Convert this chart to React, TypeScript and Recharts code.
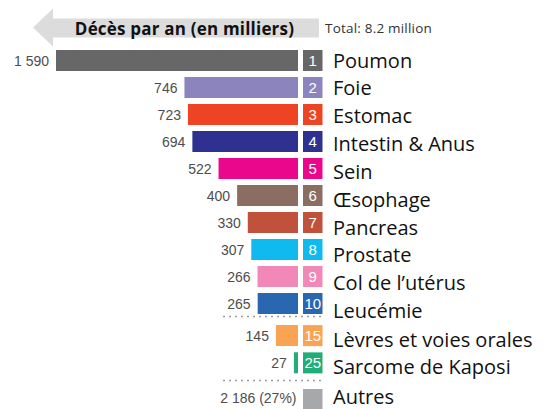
import { Bar, BarChart, Cell, LabelList, XAxis, YAxis } from "recharts";

// top ten causes
const causes = [
	"Poumon",
	"Foie",
	"Estomac",
	"Intestin & Anus",
	"Sein",
	"Œsophage",
	"Pancreas",
	"Prostate",
	"Col de l’utérus",
	"Leucémie",
];
const ranks = [1, 2, 3, 4, 5, 6, 7, 8, 9, 10];
const deaths = [1590, 746, 723, 694, 522, 400, 330, 307, 266, 265];
const colors = [
	"#676767",
	"#8c84bd",
	"#ef4423",
	"#2e3190",
	"#ea078b",
	"#8b6d62",
	"#c0513b",
	"#0fbbee",
	"#f288b7",
	"#2a67b1",
];

// lower ranked causes shown separately
const minorCauses = ["Lèvres et voies orales", "Sarcome de Kaposi"];
const minorRanks = [15, 25];
const minorDeaths = [145, 27];
const minorColors = ["#f8a453", "#20ad78"];

const otherCause = "Autres";
const otherDeaths = 2186;
const otherShare = 27;
const otherColor = "#a7a8aa";

const title = "Décès par an (en milliers)";
const totalText = "Total: 8.2 million";

const W = 543;
const H = 409;
const PLOT_LEFT = 56;
const PLOT_RIGHT = 298;
const PAD = 12;
const MAX = Math.max(...deaths);

type Row = { name: string; rank: string; value: number; fill: string; label: string };

function fmt(n: number) {
	if (n < 1000) return String(n);
	return `${Math.floor(n / 1000)} ${String(n % 1000).padStart(3, "0")}`;
}

const mainRows: Row[] = causes.map((name, i) => ({
	name,
	rank: String(ranks[i]),
	value: deaths[i],
	fill: colors[i],
	label: fmt(deaths[i]),
}));

const minorRows: Row[] = minorCauses.map((name, i) => ({
	name,
	rank: String(minorRanks[i]),
	value: minorDeaths[i],
	fill: minorColors[i],
	label: fmt(minorDeaths[i]),
}));

// "Autres" has no bar, only its total
const otherRows: Row[] = [
	{
		name: otherCause,
		rank: "",
		value: 0,
		fill: otherColor,
		label: `${fmt(otherDeaths)} (${otherShare}%)`,
	},
];

const numFont = "Liberation Sans, Arial, sans-serif";

function Section({
	rows,
	top,
	height,
	drift,
	shift,
}: {
	rows: Row[];
	top: number;
	height: number;
	drift: number;
	shift: number;
}) {
	const renderTick = (props: any) => {
		const { x, y, payload } = props;
		const row = rows[payload.index];
		return (
			<g>
				{row.value === 0 && (
					<text x={x - 1.5} y={y + 3.5} textAnchor="end" fill="#4d4d4d" fontSize={14} fontFamily={numFont}>
						{row.label}
					</text>
				)}
				<rect x={x + 5} y={y - 10.5} width={19.5} height={21} fill={row.fill} />
				<text x={x + 14.75} y={y + 5.5} textAnchor="middle" fill="#fff" fontSize={15} fontFamily={numFont}>
					{row.rank}
				</text>
				<text
					x={x + 35}
					y={y + 7 + shift + payload.index * drift}
					fill="#111"
					fontSize={20}
					fontFamily="Open Sans, sans-serif"
				>
					{payload.value}
				</text>
			</g>
		);
	};

	const renderValue = (p: any) => {
		const vb = p.viewBox && p.viewBox.width !== undefined ? p.viewBox : p;
		if (!vb.width) return null;
		const left = Math.min(vb.x, vb.x + vb.width);
		return (
			<text
				x={left - 7}
				y={vb.y + vb.height / 2 + 5}
				textAnchor="end"
				fill="#4d4d4d"
				fontSize={14}
				fontFamily={numFont}
			>
				{p.value}
			</text>
		);
	};

	return (
		<div style={{ position: "absolute", left: 0, top: top - PAD, width: W, height: height + 2 * PAD }}>
			<BarChart
				width={W}
				height={height + 2 * PAD}
				data={rows}
				layout="vertical"
				margin={{ top: PAD, right: 0, bottom: PAD, left: PLOT_LEFT }}
				barSize={21}
			>
				<XAxis type="number" hide reversed domain={[0, MAX]} allowDataOverflow />
				<YAxis
					type="category"
					dataKey="name"
					orientation="right"
					width={W - PLOT_RIGHT}
					axisLine={false}
					tickLine={false}
					tickSize={0}
					tickMargin={0}
					interval={0}
					tick={renderTick}
				/>
				<Bar dataKey="value" isAnimationActive={false}>
					{rows.map((r, i) => (
						<Cell key={`cell-${i}`} fill={r.fill} />
					))}
					<LabelList dataKey="label" content={renderValue} />
				</Bar>
			</BarChart>
		</div>
	);
}

export default function App() {
	return (
		<div
			style={{
				position: "absolute",
				left: 0,
				top: 0,
				width: W,
				height: H,
				background: "#fff",
				overflow: "hidden",
			}}
		>
			<svg width={W} height={H} style={{ position: "absolute", left: 0, top: 0 }}>
				<polygon
					points="33,27.5 53,8.5 53,18.5 319,18.5 319,37.5 53,37.5 53,46.5"
					fill="#dcdcdc"
				/>
				<text
					x={184.5}
					y={34.5}
					textAnchor="middle"
					fontSize={17}
					fontWeight={700}
					letterSpacing={0.2}
					fill="#111"
					fontFamily="Open Sans, sans-serif"
				>
					{title}
				</text>
				<text x={325} y={33} fontSize={13.5} letterSpacing={0.2} fill="#333" fontFamily="Open Sans, sans-serif">
					{totalText}
				</text>
				<line x1={223} x2={325} y1={316.5} y2={316.5} stroke="#a0a0a0" strokeWidth={1.5} strokeDasharray="2 4" />
				<line x1={223} x2={325} y1={380.5} y2={380.5} stroke="#a0a0a0" strokeWidth={1.5} strokeDasharray="2 4" />
			</svg>
			<Section rows={mainRows} top={47} height={270} drift={0.85} shift={0} />
			<Section rows={minorRows} top={321.5} height={54.5} drift={0} shift={4.5} />
			<Section rows={otherRows} top={386} height={27} drift={0} shift={-3} />
		</div>
	);
}
